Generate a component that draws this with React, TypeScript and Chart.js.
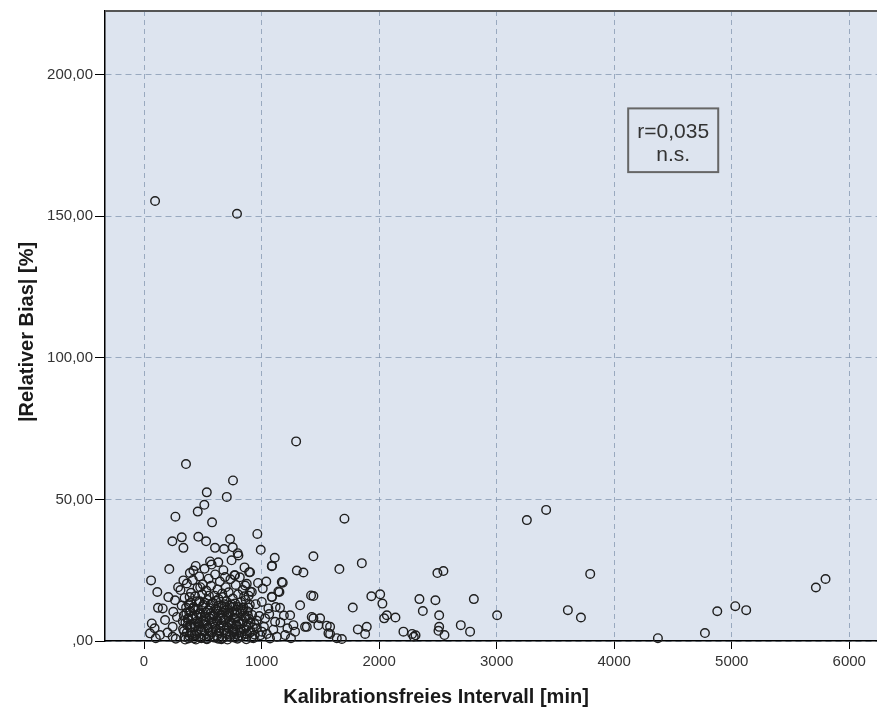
import React, { useEffect, useRef } from "react";
import { Chart, registerables } from "chart.js";

Chart.register(...registerables);

// Kalibrationsfreies Intervall [min]
const intervalMin: number[] = [
  // sparse left part
  60, 113, 119, 207, 66, 51, 159, 264, 249, 179, 136, 244, 244, 90, 100, 215, 241, 267, 200, 280, 290, 270,
  // dense cluster 300-1000
  321, 335, 357, 335, 420, 457, 462, 513, 528, 534, 579, 604, 681, 704, 732, 755, 757, 769, 797, 803, 562, 632, 689, 774, 860, 874, 894, 902, 902, 917, 964, 993,
  310, 320, 330, 340, 345, 350, 360, 365, 370, 380, 385, 390, 395, 400, 405, 410, 415, 420, 425, 430, 435, 440, 445, 450, 455, 460, 465, 470, 475, 480,
  485, 490, 495, 500, 505, 510, 515, 520, 525, 530, 535, 540, 545, 550, 555, 560, 565, 570, 575, 580, 585, 590, 595, 600, 605, 610, 615, 620, 625, 630,
  635, 640, 645, 650, 655, 660, 665, 670, 675, 680, 685, 690, 695, 700, 705, 710, 715, 720, 725, 730, 735, 740, 745, 750, 755, 760, 765, 770, 775, 780,
  785, 790, 795, 800, 805, 810, 815, 820, 825, 830, 835, 840, 845, 850, 855, 860, 865, 870, 875, 880, 885, 890, 895, 900, 910, 920, 930, 940, 950, 960,
  970, 980, 990,
  375, 388, 402, 418, 432, 447, 468, 478, 492, 502, 518, 538, 552, 568, 588, 598, 612, 628, 648, 662, 672, 688, 698, 712, 728, 742, 758, 772, 788, 802,
  818, 838, 852, 868, 888,
  332, 338, 346, 352, 358, 364, 372, 378, 384, 392, 398, 406, 412, 424, 436, 442, 452, 458, 466, 474,
  482, 488, 498, 506, 512, 522, 532, 542, 548, 558, 566, 574, 582, 592, 602, 608, 618, 624, 634, 642,
  652, 658, 668, 678, 684, 694, 702, 708, 718, 724, 734, 744, 752, 762, 778, 784, 792, 808, 822, 832,
  846, 858, 872, 884, 898, 906, 916, 926, 942, 958,
  // 1000-1300
  1002, 1002, 1030, 1058, 1072, 1087, 1087, 1089, 1089, 1112, 1115, 1143, 1152, 1157, 1172, 1180, 1200, 1243, 1271, 1285, 1294, 1300, 1020, 1045, 1065,
  1100, 1130, 1160, 1190, 1220, 1250, 1010, 1040, 1120,
  // sparse right part
  1328, 1356, 1370, 1421, 1441, 1441, 1441, 1427, 1498, 1385, 1483, 1555, 1569, 1583, 1583, 1640, 1683, 1662, 1705, 1776, 1819, 1853, 1881, 1895, 1934,
  2009, 2028, 2043, 2066, 2139, 2207, 2281, 2295, 2310, 2343, 2372, 2479, 2496, 2505, 2511, 2511, 2547, 2556, 2695, 2774, 2806, 3004, 3257, 3421, 3606,
  3717, 3796, 4372, 4772, 4877, 5030, 5123, 5716, 5798,
  // outliers
  94, 791,
];

// |Relativer Bias| [%]
const relBias: number[] = [
  21.4, 17.3, 11.7, 15.5, 6.2, 2.7, 11.5, 14.4, 10.3, 7.4, 2.1, 5.0, 1.5, 4.5, 1.0, 25.4, 35.2, 43.9, 3.0, 8.5, 19.0, 0.8,
  36.6, 32.9, 62.5, 21.4, 24.9, 45.7, 36.8, 48.1, 35.2, 52.5, 41.9, 32.9, 32.5, 50.9, 36.0, 33.1, 56.7, 23.2, 31.0, 30.2, 28.1, 27.8, 22.6, 23.2, 19.6, 20.2, 24.3, 24.3, 17.5, 17.3, 37.8, 32.2,
  18.0, 12.5, 7.0, 3.5, 15.2, 0.5, 9.8, 20.3, 5.5, 13.0, 1.8, 24.0, 10.5, 17.0, 3.0, 7.8, 21.5, 12.0, 0.9, 5.2, 15.8, 26.5, 9.0, 2.5, 18.8, 11.2, 6.0, 22.8, 14.0, 1.2,
  4.0, 8.5, 16.5, 20.0, 12.8, 2.0, 25.5, 6.8, 10.0, 17.8, 0.6, 14.5, 4.8, 22.0, 8.2, 11.5, 3.2, 19.5, 27.0, 6.0, 13.5, 1.5, 9.5, 16.0, 23.5, 4.2, 11.0, 7.2, 18.2, 0.8,
  14.8, 2.8, 21.0, 9.0, 5.5, 12.2, 16.8, 1.0, 25.0, 7.5, 3.8, 10.8, 19.0, 14.0, 5.0, 0.5, 8.8, 17.2, 12.5, 2.2, 21.8, 6.5, 28.5, 10.2, 15.0, 3.5, 8.0, 1.2, 13.2, 19.8,
  5.8, 11.0, 0.8, 16.5, 7.0, 3.0, 22.5, 9.8, 13.8, 1.8, 6.2, 18.0, 11.8, 4.0, 26.0, 8.2, 14.5, 0.6, 2.5, 10.5, 5.5, 16.0, 7.8, 12.8, 3.2, 9.2, 1.0, 6.0, 13.0, 4.5,
  20.5, 8.8, 2.0,
  8.0, 15.5, 5.8, 11.5, 2.0, 14.0, 9.5, 19.0, 3.5, 7.2, 13.5, 5.5, 16.0, 9.8, 6.5, 1.2, 14.2, 10.5, 4.5, 8.2, 15.5, 12.0, 2.8, 10.0, 6.8, 13.0, 4.2, 9.5, 2.5, 12.0,
  6.0, 10.5, 15.8, 8.5, 11.8,
  4.2, 9.0, 1.5, 6.5, 11.8, 3.0, 7.5, 0.9, 10.2, 4.8, 13.5, 2.2, 8.8, 6.0, 11.0, 0.5, 7.0, 3.8, 13.8, 5.2,
  9.8, 1.0, 12.2, 6.0, 3.5, 8.5, 0.8, 10.8, 4.5, 2.0, 12.8, 7.8, 3.2, 9.0, 5.0, 11.5, 1.8, 7.0, 12.5, 3.5,
  8.0, 0.6, 10.0, 5.5, 13.0, 7.5, 2.5, 11.2, 4.5, 9.8, 1.5, 6.0, 12.0, 3.0, 8.0, 5.2, 10.0, 1.8, 4.0, 11.2,
  7.0, 2.5, 5.0, 9.0, 3.0, 6.5, 1.2, 4.8, 2.2, 7.2,
  13.8, 3.3, 8.0, 11.5, 0.9, 15.6, 26.4, 15.5, 26.6, 29.4, 6.8, 17.5, 17.3, 11.7, 20.8, 20.6, 2.1, 9.1, 5.6, 3.3, 70.5, 24.9, 5.0, 2.5, 9.5,
  4.0, 1.5, 6.5, 9.0, 4.5, 1.0, 18.5, 21.0, 12.0,
  12.6, 24.2, 5.0, 16.1, 8.0, 29.9, 15.9, 8.5, 8.0, 5.0, 5.6, 5.4, 2.7, 5.0, 2.5, 1.0, 0.7, 25.4, 43.2, 11.8, 4.1, 27.5, 2.5, 5.0, 15.8,
  16.5, 13.2, 8.0, 9.1, 8.3, 3.3, 2.5, 1.5, 2.0, 14.8, 10.6, 14.4, 24.0, 3.6, 9.1, 5.0, 24.7, 2.1, 5.6, 3.3, 14.8, 9.1, 42.7, 46.3, 10.9,
  8.3, 23.7, 1.0, 2.8, 10.5, 12.3, 10.9, 18.9, 21.9,
  155.4, 150.9,
];

const xTickValues: number[] = [0, 1000, 2000, 3000, 4000, 5000, 6000];
const xTickLabels: string[] = ["0", "1000", "2000", "3000", "4000", "5000", "6000"];
const yTickValues: number[] = [0, 50, 100, 150, 200];
const yTickLabels: string[] = [",00", "50,00", "100,00", "150,00", "200,00"];

const xTitle = "Kalibrationsfreies Intervall [min]";
const yTitle = "|Relativer Bias| [%]";
const annotationLines: string[] = ["r=0,035", "n.s."];

const FONT = "'Liberation Sans', Arial, sans-serif";
const PLOT_BG = "#dde4ef";

const decorPlugin = {
  id: "decor",
  beforeDraw(chart: any) {
    const { ctx, chartArea } = chart;
    ctx.save();
    ctx.fillStyle = PLOT_BG;
    ctx.fillRect(chartArea.left, chartArea.top, chartArea.right - chartArea.left, chartArea.bottom - chartArea.top);
    ctx.restore();
  },
  afterDraw(chart: any) {
    const { ctx, chartArea, scales } = chart;
    ctx.save();
    // top frame line
    ctx.strokeStyle = "#555";
    ctx.lineWidth = 2;
    ctx.beginPath();
    ctx.moveTo(chartArea.left, chartArea.top);
    ctx.lineTo(chartArea.right, chartArea.top);
    ctx.stroke();

    // axis titles
    ctx.fillStyle = "#1a1a1a";
    ctx.font = `bold 20px ${FONT}`;
    ctx.textAlign = "center";
    ctx.textBaseline = "alphabetic";
    ctx.fillText(xTitle, chartArea.left + 331, 703);
    ctx.save();
    ctx.translate(33, (chartArea.top + chartArea.bottom) / 2 + 6);
    ctx.rotate(-Math.PI / 2);
    ctx.fillText(yTitle, 0, 0);
    ctx.restore();

    // annotation box
    const x0 = scales.x.getPixelForValue(4119);
    const x1 = scales.x.getPixelForValue(4885);
    const y0 = scales.y.getPixelForValue(188.1);
    const y1 = scales.y.getPixelForValue(165.6);
    ctx.fillStyle = PLOT_BG;
    ctx.fillRect(x0, y0, x1 - x0, y1 - y0);
    ctx.strokeStyle = "#666";
    ctx.lineWidth = 2;
    ctx.strokeRect(x0, y0, x1 - x0, y1 - y0);
    ctx.fillStyle = "#333";
    ctx.font = `21px ${FONT}`;
    ctx.textAlign = "center";
    ctx.textBaseline = "middle";
    const cx = (x0 + x1) / 2;
    ctx.fillText(annotationLines[0], cx, y0 + 24);
    ctx.fillText(annotationLines[1], cx, y0 + 47);
    ctx.restore();
  },
};

export default function App() {
  const canvasRef = useRef<HTMLCanvasElement | null>(null);

  useEffect(() => {
    document.body.style.margin = "0";
    const canvas = canvasRef.current;
    if (!canvas) return;
    const points = intervalMin.map((x, i) => ({ x, y: relBias[i] }));
    const chart = new Chart(canvas, {
      type: "scatter",
      data: {
        datasets: [
          {
            data: points,
            pointStyle: "circle",
            pointRadius: 4.3,
            pointBorderWidth: 1.4,
            pointBorderColor: "#1e1e1e",
            pointBackgroundColor: "rgba(0,0,0,0)",
            clip: false as any,
          },
        ],
      },
      options: {
        animation: false,
        responsive: true,
        maintainAspectRatio: false,
        layout: { padding: { top: 7, right: 0, left: 0, bottom: 0 } },
        plugins: { legend: { display: false }, tooltip: { enabled: false } },
        scales: {
          x: {
            type: "linear",
            min: -332,
            max: 6298,
            afterBuildTicks: (scale: any) => {
              scale.ticks = xTickValues.map((v) => ({ value: v }));
            },
            afterFit: (scale: any) => {
              scale.height = 67;
            },
            ticks: {
              font: { family: FONT, size: 15 },
              color: "#333",
              padding: 4,
              maxRotation: 0,
              callback: (v: any) => {
                const i = xTickValues.indexOf(Number(v));
                return i >= 0 ? xTickLabels[i] : "";
              },
            },
            grid: {
              color: "rgba(130,150,175,0.75)",
              lineWidth: 1,
              tickColor: "#000",
              tickLength: 8,
              tickWidth: 1,
              tickBorderDash: [],
            } as any,
            border: { color: "#000", width: 1.5, dash: [5, 4] } as any,
            title: { display: false },
          },
          y: {
            type: "linear",
            min: 0,
            max: 222.5,
            afterBuildTicks: (scale: any) => {
              scale.ticks = yTickValues.map((v) => ({ value: v }));
            },
            afterFit: (scale: any) => {
              scale.width = 105;
            },
            ticks: {
              font: { family: FONT, size: 15 },
              color: "#333",
              padding: 2,
              callback: (v: any) => {
                const i = yTickValues.indexOf(Number(v));
                return i >= 0 ? yTickLabels[i] : "";
              },
            },
            grid: {
              color: "rgba(130,150,175,0.75)",
              lineWidth: 1,
              tickColor: "#000",
              tickLength: 10,
              tickWidth: 1,
              tickBorderDash: [],
            } as any,
            border: { color: "#000", width: 1.5, dash: [6, 4] } as any,
            title: { display: false },
          },
        },
      },
      plugins: [decorPlugin],
    });
    return () => chart.destroy();
  }, []);

  return (
    <div style={{ width: 877, height: 708, position: "relative", overflow: "hidden" }}>
      <div style={{ width: 890, height: 708, position: "absolute", left: 0, top: 0 }}>
        <canvas ref={canvasRef} style={{ display: "block" }} />
      </div>
    </div>
  );
}
